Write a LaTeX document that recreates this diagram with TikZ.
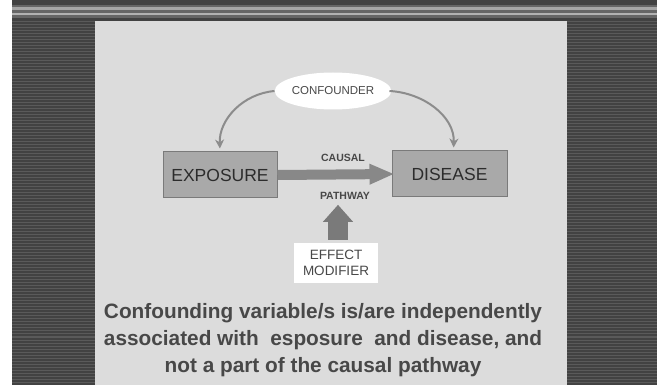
\documentclass[tikz,border=0pt]{standalone}
\usepackage{fontspec}
\setmainfont{Liberation Sans}
\usetikzlibrary{arrows.meta,shapes.geometric}
\definecolor{bgdark}{HTML}{424242}
\definecolor{bgline}{HTML}{5A5A5A}
\definecolor{panel}{HTML}{DCDCDC}
\definecolor{boxfill}{HTML}{A9A9A9}
\definecolor{boxline}{HTML}{7A7A7A}
\definecolor{arrowgray}{HTML}{888888}
\definecolor{curvegray}{HTML}{8C8C8C}
\definecolor{txtdark}{HTML}{2C2C2C}
\definecolor{txtmid}{HTML}{484848}
\tikzset{
  mainbox/.style={rectangle, draw=boxline, line width=1pt, fill=boxfill,
    minimum width=114pt, minimum height=46pt, inner sep=0pt,
    text=txtdark, font=\fontsize{17.5}{20}\selectfont},
  smalllabel/.style={text=txtmid, font=\bfseries\fontsize{10.5}{12}\selectfont, inner sep=1pt},
  curvearrow/.style={draw=curvegray, line width=2pt,
    -{Stealth[length=9pt,width=9pt]}, shorten >=3pt},
  bigarrow/.style={draw=arrowgray, line width=10pt,
    -{Triangle[length=25pt,width=19pt]}},
  uparrow/.style={draw=arrowgray!90!black, line width=20pt,
    -{Triangle[length=17pt,width=29pt]}}
}
\begin{document}
\begin{tikzpicture}[x=1pt,y=1pt]
\useasboundingbox (0,0) rectangle (657,-385);
% background
\fill[white] (0,0) rectangle (657,-385);
\fill[bgdark] (12,0) rectangle (657,-385);
\foreach \yy in {22,25,...,385} {
  \draw[bgline, line width=1pt] (12,-\yy) -- (657,-\yy);
}
\fill[gray!80!black] (12,-5) rectangle (657,-18);
\fill[gray!70] (12,-7) rectangle (657,-10);
\fill[gray!60] (12,-13) rectangle (657,-15.5);
% panel
\fill[panel] (95,-21) rectangle (567,-385);
% nodes
\node[ellipse, fill=white, minimum width=110pt, minimum height=37pt, inner sep=0pt,
  text=txtmid, font=\fontsize{11.5}{13}\selectfont] (conf) at (333,-91) {CONFOUNDER};
\node[mainbox] (expo) at (220,-175) {EXPOSURE};
\node[mainbox, minimum width=115pt] (dis) at (449.5,-174) {DISEASE};
\node[smalllabel] (causal) at (343,-158) {CAUSAL};
\node[smalllabel] (pathway) at (345,-196) {PATHWAY};
\node[rectangle, fill=white, minimum width=84pt, minimum height=40pt, inner sep=0pt,
  align=center, text=txtmid, font=\fontsize{13.5}{16}\selectfont] (eff) at (336,-263)
  {EFFECT\\MODIFIER};
\node[align=center, text=txtmid, inner sep=0pt,
  font=\bfseries\fontsize{20.8}{27}\selectfont] (note) at (323,-340)
  {Confounding variable/s is/are independently\\
   associated with~ esposure~ and disease, and\\
   not a part of the causal pathway};
% connectors
\draw[curvearrow] (conf.west) to[out=185,in=92] (expo.north);
\draw[curvearrow] ([xshift=-2pt]conf.east) to[out=-3,in=88] ([xshift=4pt]dis.north);
\draw[bigarrow] (expo.east) -- ([xshift=3pt]dis.west);
\draw[uparrow] ([xshift=2pt,yshift=3pt]eff.north) -- ([xshift=-7pt,yshift=-4pt]pathway.south);
\end{tikzpicture}
\end{document}
